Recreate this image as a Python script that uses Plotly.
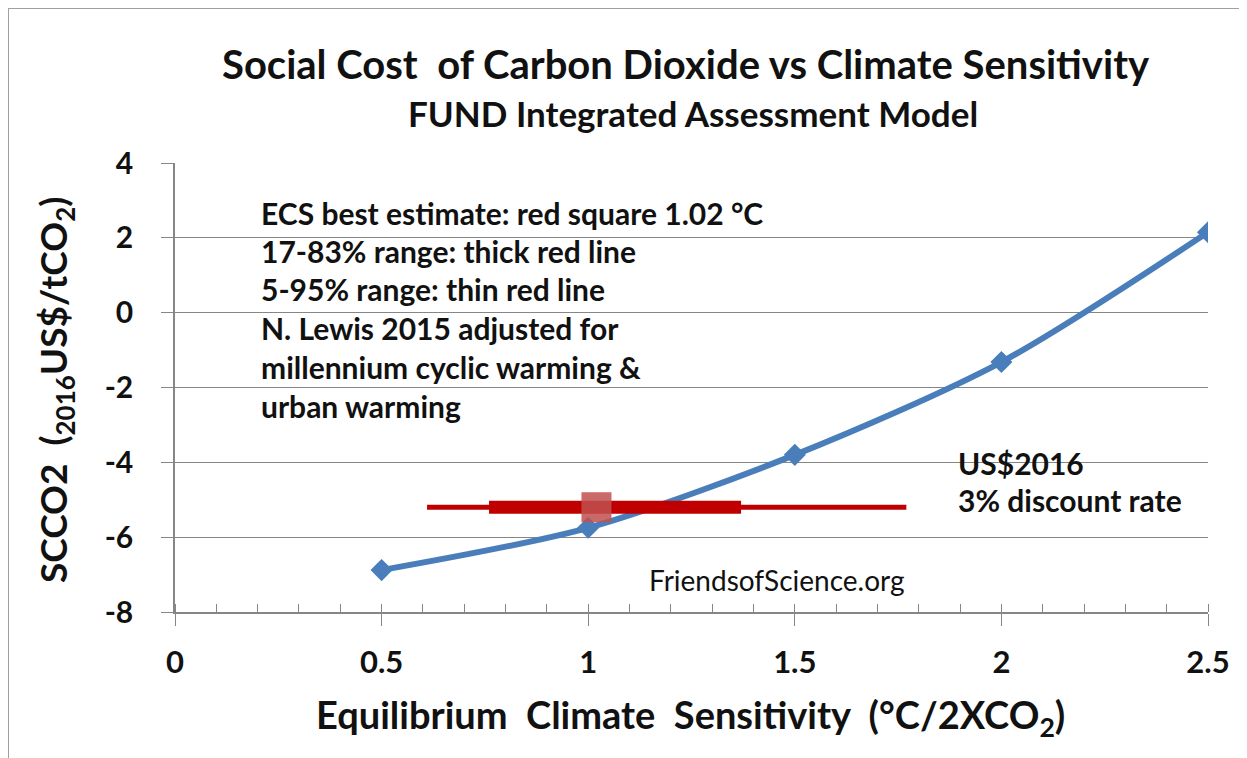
import plotly.graph_objects as go

# Data
ecs = [0.5, 1.0, 1.5, 2.0, 2.5]
scco2 = [-6.88, -5.75, -3.8, -1.32, 2.15]

best_ecs = [1.02]
best_scco2 = [-5.2]
range_5_95 = [0.61, 1.77]
range_17_83 = [0.76, 1.37]
range_y = [-5.2, -5.2]

x_ticks = [0, 0.5, 1, 1.5, 2, 2.5]
x_ticklabels = ["0", "0.5", "1", "1.5", "2", "2.5"]
y_ticks = [-8, -6, -4, -2, 0, 2, 4]
y_ticklabels = ["-8", "-6", "-4", "-2", "0", "2", "4"]

FONT = "Lato"
DARK = "#111111"

fig = go.Figure()

fig.add_trace(go.Scatter(
    x=ecs, y=scco2, mode="lines+markers",
    line=dict(color="#4A7EBB", width=6, shape="spline", smoothing=0.8),
    marker=dict(symbol="diamond", size=17, color="#4A7EBB"),
    showlegend=False, hoverinfo="x+y"))

fig.add_trace(go.Scatter(
    x=range_5_95, y=range_y, mode="lines",
    line=dict(color="#C00000", width=5), showlegend=False))
fig.add_trace(go.Scatter(
    x=range_17_83, y=range_y, mode="lines",
    line=dict(color="#C00000", width=13), showlegend=False))
fig.add_trace(go.Scatter(
    x=best_ecs, y=best_scco2, mode="markers",
    marker=dict(symbol="square", size=30, color="rgba(192,80,77,0.85)"),
    showlegend=False))

OFF = 8  # body margin of the html page
W, H = 1247 - OFF, 758 - OFF
L, R, T, B = 175 - OFF, 1208 - OFF, 163 - OFF, 612 - OFF
pw, ph = R - L, B - T

def px(xp):
    return (xp - OFF - L) / pw

def py(yp):
    return (B - (yp - OFF)) / ph

def note(text, x, y, size, xanchor="center", bold=True, angle=0):
    return dict(text=text, x=px(x), y=py(y), xref="paper", yref="paper",
                xanchor=xanchor, yanchor="middle", showarrow=False, textangle=angle,
                font=dict(family=FONT, size=size, color=DARK,
                          weight="bold" if bold else "normal"))

ann = []
ann.append(note("Social Cost  of Carbon Dioxide vs Climate Sensitivity", 686, 64, 40))
ann.append(note("FUND Integrated Assessment Model", 693, 113, 35))
ann.append(note("Equilibrium  Climate  Sensitivity  (°C/2XCO<sub>2</sub>)", 690, 717, 38))
ann.append(note("SCCO2  (<sub>2016</sub>US$/tCO<sub>2</sub>)", 55, 390, 37, angle=-90))

lines = ["ECS best estimate: red square 1.02 °C",
         "17-83% range: thick red line",
         "5-95% range: thin red line",
         "N. Lewis 2015 adjusted for",
         "millennium cyclic warming &",
         "urban warming"]
ys = [213, 251, 289, 328, 367, 406]
for t, yy in zip(lines, ys):
    ann.append(note(t, 259, yy, 30, xanchor="left"))

ann.append(note("US$2016", 956, 463, 30, xanchor="left"))
ann.append(note("3% discount rate", 956, 500, 30, xanchor="left"))
ann.append(note("FriendsofScience.org", 647, 580, 28, xanchor="left", bold=False))

fig.update_layout(
    width=W, height=H,
    margin=dict(l=L, r=W - R, t=T, b=H - B),
    paper_bgcolor="white", plot_bgcolor="white",
    annotations=ann,
    shapes=[dict(type="rect", xref="paper", yref="paper",
                 x0=px(8), x1=px(1241), y0=py(800), y1=py(8),
                 line=dict(color="#A0A0A0", width=2), layer="below")],
    xaxis=dict(range=[0, 2.5], tickvals=x_ticks, ticktext=x_ticklabels,
               showgrid=False, zeroline=False, showline=True, linecolor="#868686",
               linewidth=1.5, ticks="outside", ticklen=12, tickcolor="#868686",
               ticklabelstandoff=10,
               minor=dict(dtick=0.1, ticks="inside", ticklen=8, tickcolor="#868686",
                          showgrid=False),
               tickfont=dict(family=FONT, size=31, color=DARK, weight="bold")),
    yaxis=dict(range=[-8, 4], tickvals=y_ticks, ticktext=y_ticklabels,
               showgrid=True, gridcolor="#868686", gridwidth=1.2, zeroline=False,
               showline=True, linecolor="#868686", linewidth=1.5,
               ticks="outside", ticklen=12, tickcolor="#868686",
               ticklabelstandoff=22,
               tickfont=dict(family=FONT, size=30, color=DARK, weight="bold")),
)

fig.write_html("out.html")
